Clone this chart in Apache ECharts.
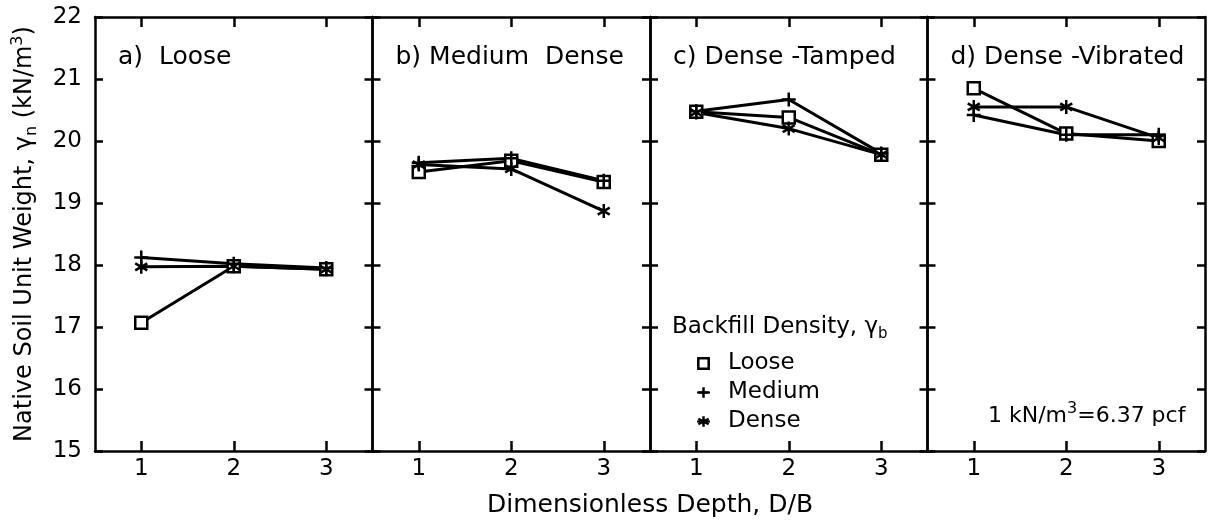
<!DOCTYPE html>
<html>
<head>
<meta charset="utf-8">
<script src="https://cdn.jsdelivr.net/npm/echarts@6/dist/echarts.min.js"></script>
<style>
  html, body { margin: 0; padding: 0; background: #fff; }
  #chart { width: 1210px; height: 531px; }
</style>
</head>
<body>
<div id="chart"></div>
<script>
// ---- data ----
const depthCategories = ['1', '2', '3'];
const panelTitles = ['a)  Loose', 'b) Medium  Dense', 'c) Dense -Tamped', 'd) Dense -Vibrated'];
const densityNames = ['Loose', 'Medium', 'Dense'];
const yTicks = [15, 16, 17, 18, 19, 20, 21, 22];
// values per panel a..d, D/B = 1, 2, 3
const looseValues = [
  [17.07, 17.98, 17.93],
  [19.50, 19.68, 19.34],
  [20.47, 20.38, 19.78],
  [20.85, 20.12, 20.00]
];
const mediumValues = [
  [18.12, 18.02, 17.95],
  [19.65, 19.72, 19.36],
  [20.48, 20.67, 19.80],
  [20.42, 20.10, 20.10]
];
const denseValues = [
  [17.97, 17.98, 17.93],
  [19.62, 19.55, 18.87],
  [20.46, 20.20, 19.78],
  [20.55, 20.55, 20.05]
];

// ---- layout ----
const FONT = 'DejaVu Sans';
const plotLeft = 95, plotTop = 17, plotHeight = 434, panelWidth = 277.5;
const black = '#000';

const symbols = {
  Loose: 'rect',
  Medium: 'path://M5,0L5,10M0,5L10,5',
  Dense: 'path://M5,0L5,10M0.7,2.5L9.3,7.5M0.7,7.5L9.3,2.5'
};
const symbolSizes = { Loose: 12, Medium: 14, Dense: 14 };
const seriesValues = { Loose: looseValues, Medium: mediumValues, Dense: denseValues };

const grids = [], xAxes = [], yAxes = [], series = [], graphics = [];
for (let i = 0; i < 4; i++) {
  const left = plotLeft + i * panelWidth;
  grids.push({ left: left, top: plotTop, width: panelWidth, height: plotHeight, containLabel: false });
  const axisLine = { show: true, lineStyle: { color: black, width: 2.5 } };
  const tickStyle = { color: black, width: 2.5 };
  xAxes.push({
    gridIndex: i, type: 'category', data: depthCategories, position: 'bottom', boundaryGap: true,
    axisLine: axisLine,
    axisTick: { show: true, inside: true, alignWithLabel: true, length: 10, lineStyle: tickStyle },
    axisLabel: { color: black, fontFamily: FONT, fontSize: 23, margin: 7 },
    splitLine: { show: false }
  });
  xAxes.push({
    gridIndex: i, type: 'category', data: depthCategories, position: 'top', boundaryGap: true,
    axisLine: axisLine,
    axisTick: { show: true, inside: true, alignWithLabel: true, length: 10, lineStyle: tickStyle },
    axisLabel: { show: false },
    splitLine: { show: false }
  });
  const yBase = {
    gridIndex: i, type: 'value', min: yTicks[0], max: yTicks[yTicks.length - 1], interval: 1,
    axisLine: axisLine,
    axisTick: { show: true, inside: true, length: 8, lineStyle: tickStyle },
    splitLine: { show: false }
  };
  yAxes.push(Object.assign({}, yBase, {
    position: 'left',
    axisLabel: i === 0 ? { color: black, fontFamily: FONT, fontSize: 23, margin: 13 } : { show: false },
    name: i === 0 ? 'Native Soil Unit Weight, γ{sub|n} (kN/m{sup|3})' : '',
    nameLocation: 'middle',
    nameGap: 55,
    nameTextStyle: {
      color: black, fontFamily: FONT, fontSize: 24,
      rich: {
        sub: { fontFamily: FONT, fontSize: 16, color: black, verticalAlign: 'bottom', lineHeight: 30 },
        sup: { fontFamily: FONT, fontSize: 16, color: black, verticalAlign: 'top', lineHeight: 30 }
      }
    }
  }));
  yAxes.push(Object.assign({}, yBase, { position: 'right', axisLabel: { show: false } }));

  densityNames.forEach(function (name) {
    series.push({
      name: name,
      type: 'line',
      xAxisIndex: 2 * i,
      yAxisIndex: 2 * i,
      data: seriesValues[name][i],
      symbol: symbols[name],
      symbolSize: symbolSizes[name],
      symbolKeepAspect: true,
      legendIcon: symbols[name],
      showAllSymbol: true,
      lineStyle: { color: black, width: 3 },
      itemStyle: { color: name === 'Loose' ? '#fff' : black, borderColor: black, borderWidth: 2.5 },
      emphasis: { disabled: true },
      z: 3
    });
  });

  graphics.push({
    type: 'text', left: left + 23, top: 45,
    style: { text: panelTitles[i], font: '25px "' + FONT + '"', fill: black }
  });
}

graphics.push({
  type: 'text', x: 650, y: 505,
  style: { text: 'Dimensionless Depth, D/B', font: '25px "' + FONT + '"', fill: black, align: 'center', verticalAlign: 'middle' }
});
graphics.push({
  type: 'text', x: 672, y: 327,
  style: {
    text: 'Backfill Density, γ{sub|b}', font: '23px "' + FONT + '"', fill: black, verticalAlign: 'middle',
    rich: { sub: { fontFamily: FONT, fontSize: 15, fill: black, verticalAlign: 'bottom', lineHeight: 30 } }
  }
});
graphics.push({
  type: 'text', x: 988, y: 416,
  style: {
    text: '1 kN/m{sup|3}=6.37 pcf', font: '22px "' + FONT + '"', fill: black, verticalAlign: 'middle',
    rich: { sup: { fontFamily: FONT, fontSize: 16, fill: black, verticalAlign: 'top', lineHeight: 30 } }
  }
});

const chart = echarts.init(document.getElementById('chart'), null, { renderer: 'canvas' });
chart.setOption({
  animation: false,
  backgroundColor: '#fff',
  grid: grids,
  xAxis: xAxes,
  yAxis: yAxes,
  legend: {
    data: densityNames,
    orient: 'vertical',
    left: 691,
    top: 344,
    itemWidth: 13,
    itemHeight: 13,
    itemGap: 0,
    selectedMode: false,
    textStyle: { color: black, fontFamily: FONT, fontSize: 23, lineHeight: 29, padding: [0, 0, 0, 13] },
    itemStyle: { borderColor: black, borderWidth: 2.5 }
  },
  series: series,
  graphic: graphics
});
</script>
</body>
</html>
